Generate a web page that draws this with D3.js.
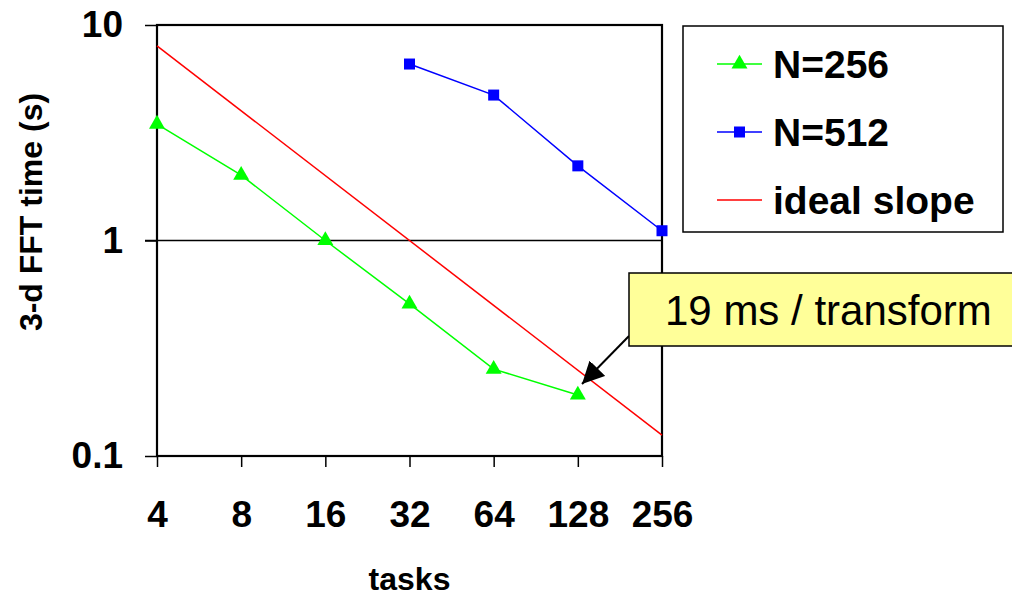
<!DOCTYPE html>
<html lang="en">
<head>
<meta charset="UTF-8">
<title>3-d FFT time</title>
<style>
  body { margin: 0; background: #fff; }
  text { font-family: "Liberation Sans", Arial, sans-serif; }
</style>
</head>
<body>
<svg id="chart" width="1012" height="597"></svg>
<script src="https://d3js.org/d3.v7.min.js"></script>
<script>
// data
var tasks = [4, 8, 16, 32, 64, 128, 256];
var n256Tasks = [4, 8, 16, 32, 64, 128];
var n256Time = [3.47, 2.01, 1.0, 0.508, 0.253, 0.192];
var n512Tasks = [32, 64, 128, 256];
var n512Time = [6.59, 4.73, 2.22, 1.11];
var idealTasks = [4, 256];
var idealTime = [8, 0.125];
var yTicks = [0.1, 1, 10];
var legendLabels = ["N=256", "N=512", "ideal slope"];
var noteText = "19 ms / transform";

var svg = d3.select("#chart");

var plotL = 157, plotR = 662, plotT = 25, plotB = 456;

var x = d3.scaleLog().base(2).domain([4, 256]).range([plotL, plotR]);
var y = d3.scaleLog().domain([0.1, 10]).range([plotB, plotT]);

// gridline at 1
svg.append("line")
    .attr("x1", plotL - 12).attr("x2", plotR)
    .attr("y1", y(1)).attr("y2", y(1))
    .attr("stroke", "#000").attr("stroke-width", 1.5);

// y axis
var yAxis = svg.append("g")
    .attr("transform", "translate(" + plotL + ",0)")
    .call(d3.axisLeft(y).tickValues(yTicks).tickSize(12).tickPadding(22)
        .tickFormat(d3.format("")));
yAxis.select(".domain").remove();
yAxis.selectAll("line").attr("stroke-width", 1.5);
yAxis.selectAll("text")
    .attr("font-size", 37).attr("font-weight", "bold").attr("fill", "#000");

// x axis
var xAxis = svg.append("g")
    .attr("transform", "translate(0," + plotB + ")")
    .call(d3.axisBottom(x).tickValues(tasks).tickSize(11).tickPadding(34)
        .tickFormat(d3.format("d")));
xAxis.select(".domain").remove();
xAxis.selectAll("line").attr("stroke-width", 1.5);
xAxis.selectAll("text")
    .attr("font-size", 37).attr("font-weight", "bold").attr("fill", "#000");

// plot frame
svg.append("rect")
    .attr("x", plotL).attr("y", plotT)
    .attr("width", plotR - plotL).attr("height", plotB - plotT)
    .attr("fill", "none").attr("stroke", "#000").attr("stroke-width", 2.2);

// axis titles
svg.append("text")
    .attr("transform", "translate(42,212) rotate(-90)")
    .attr("text-anchor", "middle")
    .attr("font-size", 32).attr("font-weight", "bold")
    .text("3-d FFT time (s)");

svg.append("text")
    .attr("x", (plotL + plotR) / 2).attr("y", 590)
    .attr("text-anchor", "middle")
    .attr("font-size", 32).attr("font-weight", "bold")
    .text("tasks");

var line = d3.line()
    .x(function (d) { return x(d[0]); })
    .y(function (d) { return y(d[1]); });

// ideal slope
svg.append("path")
    .datum(d3.zip(idealTasks, idealTime))
    .attr("d", line)
    .attr("fill", "none").attr("stroke", "#ff0000").attr("stroke-width", 1.5);

// N=256
var g256 = d3.zip(n256Tasks, n256Time);
svg.append("path")
    .datum(g256)
    .attr("d", line)
    .attr("fill", "none").attr("stroke", "#00ff00").attr("stroke-width", 1.5);
svg.selectAll(".tri")
    .data(g256).enter().append("path")
    .attr("class", "tri")
    .attr("transform", function (d) { return "translate(" + x(d[0]) + "," + y(d[1]) + ")"; })
    .attr("d", d3.symbol().type(d3.symbolTriangle).size(110))
    .attr("fill", "#00ff00");

// N=512
var g512 = d3.zip(n512Tasks, n512Time);
svg.append("path")
    .datum(g512)
    .attr("d", line)
    .attr("fill", "none").attr("stroke", "#0000ff").attr("stroke-width", 1.5);
svg.selectAll(".sq")
    .data(g512).enter().append("rect")
    .attr("class", "sq")
    .attr("x", function (d) { return x(d[0]) - 5.5; })
    .attr("y", function (d) { return y(d[1]) - 5.5; })
    .attr("width", 11).attr("height", 11)
    .attr("fill", "#0000ff");

// annotation box + arrow
svg.append("defs").append("marker")
    .attr("id", "head")
    .attr("viewBox", "0 0 10 10")
    .attr("refX", 10).attr("refY", 5)
    .attr("markerWidth", 22).attr("markerHeight", 22)
    .attr("markerUnits", "userSpaceOnUse")
    .attr("orient", "auto")
    .append("path").attr("d", "M0,0 L10,5 L0,10 Z").attr("fill", "#000");

svg.append("line")
    .attr("x1", 629).attr("y1", 336)
    .attr("x2", 582).attr("y2", 384)
    .attr("stroke", "#000").attr("stroke-width", 2)
    .attr("marker-end", "url(#head)");

svg.append("rect")
    .attr("x", 629).attr("y", 273)
    .attr("width", 400).attr("height", 73)
    .attr("fill", "#ffff99").attr("stroke", "#000").attr("stroke-width", 1.5);
svg.append("text")
    .attr("x", 665).attr("y", 325)
    .attr("font-size", 42)
    .text(noteText);

// legend
svg.append("rect")
    .attr("x", 683).attr("y", 26)
    .attr("width", 320).attr("height", 206)
    .attr("fill", "#fff").attr("stroke", "#000").attr("stroke-width", 1.5);

var legendColors = ["#00ff00", "#0000ff", "#ff0000"];
var legendY = d3.scalePoint().domain(legendLabels).range([64, 200]);
var lg = svg.selectAll(".leg")
    .data(legendLabels).enter().append("g")
    .attr("class", "leg")
    .attr("transform", function (d) { return "translate(0," + legendY(d) + ")"; });
lg.append("line")
    .attr("x1", 717).attr("x2", 762)
    .attr("stroke", function (d, i) { return legendColors[i]; })
    .attr("stroke-width", 1.5);
lg.filter(function (d, i) { return i === 0; }).append("path")
    .attr("transform", "translate(739.5,0)")
    .attr("d", d3.symbol().type(d3.symbolTriangle).size(110))
    .attr("fill", "#00ff00");
lg.filter(function (d, i) { return i === 1; }).append("rect")
    .attr("x", 734).attr("y", -5.5).attr("width", 11).attr("height", 11)
    .attr("fill", "#0000ff");
lg.append("text")
    .attr("x", 773).attr("y", 14)
    .attr("font-size", 39).attr("font-weight", "bold")
    .text(function (d) { return d; });
</script>
</body>
</html>
